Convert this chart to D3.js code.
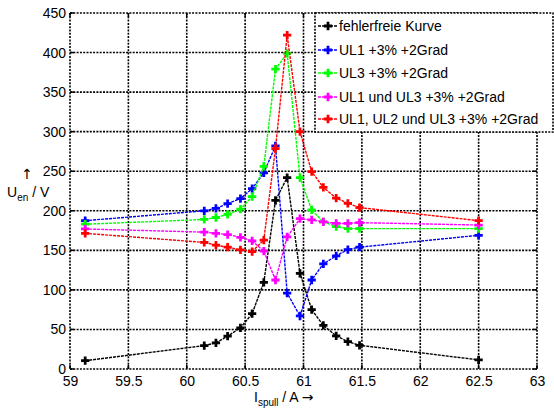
<!DOCTYPE html>
<html><head><meta charset="utf-8">
<script src="https://cdn.jsdelivr.net/npm/d3@7"></script>
<style>body{margin:0;background:#fff}svg{display:block;font-family:"Liberation Sans",Arial,sans-serif}</style>
</head><body><svg id="c" width="554" height="409"></svg>
<script>
const xTicks = [59, 59.5, 60, 60.5, 61, 61.5, 62, 62.5, 63];
const yTicks = [0, 50, 100, 150, 200, 250, 300, 350, 400, 450];
const seriesNames = ["fehlerfreie Kurve", "UL1 +3% +2Grad", "UL3 +3% +2Grad", "UL1 und UL3 +3% +2Grad", "UL1, UL2 und UL3 +3% +2Grad"];
const seriesColors = ["#000000", "#0000ff", "#00ff00", "#ff00ff", "#ff0000"];
const xs = [59.13, 60.15, 60.25, 60.35, 60.46, 60.56, 60.66, 60.76, 60.86, 60.97, 61.07, 61.17, 61.28, 61.38, 61.48, 62.5];
const fehlerfrei = [10.5, 29.5, 33, 41.5, 52, 70, 109.5, 213, 242, 121, 75, 55, 42, 34.5, 30, 11.5];
const ul1 = [187.5, 200, 203, 209, 215.5, 228, 248, 282, 96, 67, 112.5, 133, 143, 151, 154, 169];
const ul3 = [183, 189, 191.5, 195.5, 202, 218, 256, 379, 399, 242, 201, 186, 180, 177.5, 177.5, 177.5];
const ul1ul3 = [177, 173, 171.5, 170, 166.5, 162, 149, 112.5, 167, 190, 188.5, 186, 184, 184, 185, 182];
const ul123 = [171.5, 160, 156.5, 154, 150.5, 148.5, 163, 278.5, 422, 300, 249.5, 229.5, 216, 209.5, 204, 187.5];
const seriesValues = [fehlerfrei, ul1, ul3, ul1ul3, ul123];

const svg = d3.select("#c");
const L = 70, R = 537, T = 13, B = 369;
const x = d3.scaleLinear().domain([59, 63]).range([L, R]);
const y = d3.scaleLinear().domain([0, 450]).range([B, T]);

const gridStyle = s => s.attr("stroke", "#000").attr("stroke-width", 1.6).attr("stroke-dasharray", "2,1.3");

// grid
const g = svg.append("g");
g.selectAll(".vx").data(xTicks).join("line").attr("x1", d => x(d)).attr("x2", d => x(d)).attr("y1", T).attr("y2", B).call(gridStyle);
g.selectAll(".hy").data(yTicks).join("line").attr("y1", d => y(d)).attr("y2", d => y(d)).attr("x1", L).attr("x2", R).call(gridStyle);

// axes with labels
const xAxis = d3.axisBottom(x).tickValues(xTicks).tickSize(0).tickPadding(7).tickFormat(d3.format("~g"));
const ax = svg.append("g").attr("transform", `translate(0,${B})`).call(xAxis);
ax.select(".domain").remove();
ax.selectAll("text").attr("font-size", 14).attr("fill", "#000").attr("font-family", "Liberation Sans, Arial, sans-serif");
const yAxis = d3.axisLeft(y).tickValues(yTicks).tickSize(0).tickPadding(4);
const ay = svg.append("g").attr("transform", `translate(${L},0)`).call(yAxis);
ay.select(".domain").remove();
ay.selectAll("text").attr("font-size", 14).attr("fill", "#000").attr("font-family", "Liberation Sans, Arial, sans-serif");

// inward tick marks
const tk = svg.append("g").attr("stroke", "#000").attr("stroke-width", 1.5);
xTicks.forEach(v => { tk.append("line").attr("x1", x(v)).attr("x2", x(v)).attr("y1", B).attr("y2", B - 4); tk.append("line").attr("x1", x(v)).attr("x2", x(v)).attr("y1", T).attr("y2", T + 4); });
yTicks.forEach(v => { tk.append("line").attr("y1", y(v)).attr("y2", y(v)).attr("x1", L).attr("x2", L + 4); tk.append("line").attr("y1", y(v)).attr("y2", y(v)).attr("x1", R).attr("x2", R - 4); });

// series
const line = d3.line().x((d, i) => x(xs[i])).y(d => y(d));
const sym = d3.symbol().type(d3.symbolCross).size(38);
seriesValues.forEach((vals, k) => {
  const c = seriesColors[k];
  svg.append("path").datum(vals).attr("d", line).attr("fill", "none").attr("stroke", c).attr("stroke-width", 1.4).attr("stroke-dasharray", "3,1");
  svg.append("g").selectAll("path").data(vals).join("path")
    .attr("transform", (d, i) => `translate(${x(xs[i])},${y(d)})`).attr("d", sym).attr("fill", c);
});

// legend
const lg = svg.append("g");
lg.append("rect").attr("x", 315).attr("y", 13).attr("width", 238).attr("height", 119).attr("fill", "#fff").call(gridStyle);
const ly = [26, 50, 73, 97, 119];
seriesNames.forEach((n, k) => {
  const c = seriesColors[k];
  lg.append("line").attr("x1", 318).attr("x2", 337).attr("y1", ly[k]).attr("y2", ly[k]).attr("stroke", c).attr("stroke-width", 1.4).attr("stroke-dasharray", "3,1");
  lg.append("path").attr("transform", `translate(328,${ly[k]})`).attr("d", sym).attr("fill", c);
  lg.append("text").attr("x", 339).attr("y", ly[k] + 5).attr("font-size", 14).text(n);
});

// axis titles
const yt = svg.append("text").attr("x", 7).attr("y", 197).attr("font-size", 14);
yt.append("tspan").text("U");
yt.append("tspan").attr("font-size", 10).attr("dy", 4).text("en");
yt.append("tspan").attr("dy", -4).text(" / V");
svg.append("text").attr("x", 27).attr("y", 179).attr("font-size", 14).attr("font-family", "DejaVu Sans").attr("text-anchor", "middle").text("\u2191");

const xt = svg.append("text").attr("x", 254).attr("y", 402).attr("font-size", 14);
xt.append("tspan").text("I");
xt.append("tspan").attr("font-size", 10).attr("dy", 4).text("spull");
xt.append("tspan").attr("dy", -4).text(" / A  ");
xt.append("tspan").attr("font-size", 14).attr("font-family", "DejaVu Sans").text("\u2192");
</script></body></html>
